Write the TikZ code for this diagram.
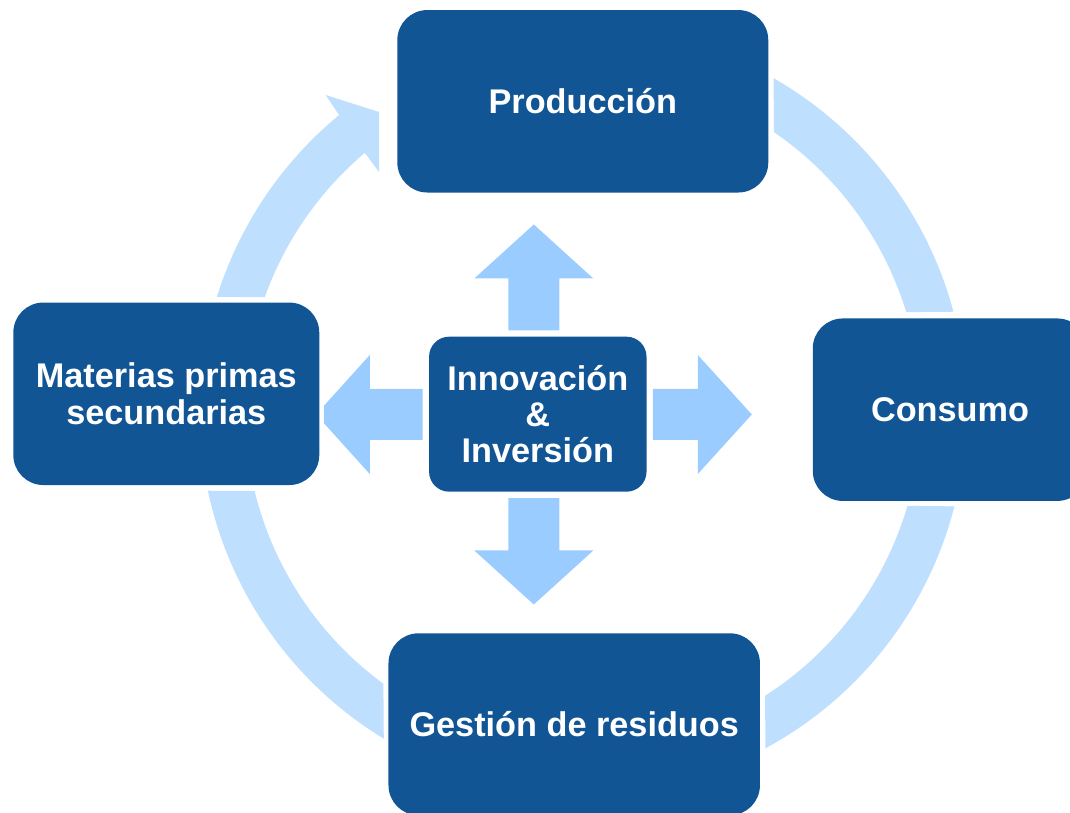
\documentclass[tikz,border=0pt]{standalone}
\usepackage{fontspec}
\setmainfont{Liberation Sans}
\usetikzlibrary{calc}

\definecolor{boxblue}{HTML}{115594}
\definecolor{ringblue}{HTML}{BFDFFF}
\definecolor{arrowblue}{HTML}{9BCCFF}

\tikzset{
  stagebox/.style={fill=boxblue, rounded corners=0.6cm, inner sep=0pt, align=center, text=white,
    font=\bfseries\fontsize{19.5}{20.7}\selectfont},
  ringpart/.style={fill=ringblue},
  hubarrow/.style={fill=arrowblue}
}

\begin{document}
\begin{tikzpicture}[x=0.02cm, y=0.02cm]

\useasboundingbox (0, 0) rectangle (1070, 813);
\clip (0, 0) rectangle (1070, 813);

\node[stagebox, minimum width=7.42cm, minimum height=3.65cm] (prod) at (582.8, 711.7) {Producción};
\node[stagebox, minimum width=5.49cm, minimum height=3.65cm] (cons) at (950, 403.3) {Consumo};
\node[stagebox, minimum width=7.43cm, minimum height=3.64cm] (gest) at (574.2, 88.7) {Gestión de residuos};
\node[stagebox, minimum width=6.12cm, minimum height=3.65cm] (mat) at (166.3, 419.2) {Materias primas\\secundarias};
\node[stagebox, minimum width=4.35cm, minimum height=3.1cm, rounded corners=0.4cm] (innov) at (537.8, 398.8) {Innovación\\\&\\Inversión};

\coordinate (ring) at (583, 402);
\coordinate (hub) at (533.8, 398.5);

% ring round the four stages
\fill[ringpart] ($(ring)+(162.7:383.5)$) arc[start angle=162.7, end angle=129.5, radius=383.5]
  -- (325.7, 718) -- (379, 701) -- (379, 641)
  -- ($(ring)+(130.2:338)$) arc[start angle=130.2, end angle=160.3, radius=338] -- cycle;
\fill[ringpart] ($(ring)+(60.2:383.5)$) arc[start angle=60.2, end angle=15, radius=383.5]
  -- ($(ring)+(17:338)$) arc[start angle=17, end angle=55.6, radius=338] -- cycle;
\fill[ringpart] ($(ring)+(-14.4:383.5)$) arc[start angle=-14.4, end angle=-61.6, radius=383.5]
  -- ($(ring)+(-57.4:338)$) arc[start angle=-57.4, end angle=-16.3, radius=338] -- cycle;
\fill[ringpart] ($(ring)+(192:383.5)$) arc[start angle=192, end angle=238.7, radius=383.5]
  -- ($(ring)+(233.8:338)$) arc[start angle=233.8, end angle=193.7, radius=338] -- cycle;

\fill[hubarrow] ($(hub |- innov.north)+(-25.5,6)$) -- ($(hub)+(-25.5,136)$) -- ($(hub)+(-59.5,136)$) -- ($(hub)+(0,190)$)
  -- ($(hub)+(59.5,136)$) -- ($(hub)+(25.5,136)$) -- ($(hub |- innov.north)+(25.5,6)$) -- cycle;
\fill[hubarrow] ($(hub |- innov.south)+(-25.5,-6)$) -- ($(hub)+(-25.5,-136)$) -- ($(hub)+(-59.5,-136)$) -- ($(hub)+(0,-190)$)
  -- ($(hub)+(59.5,-136)$) -- ($(hub)+(25.5,-136)$) -- ($(hub |- innov.south)+(25.5,-6)$) -- cycle;
\fill[hubarrow] ($(innov.west |- hub)+(-6,25.5)$) -- ($(hub)+(-164,25.5)$) -- ($(hub)+(-164,59.5)$) -- ($(hub)+(-209.8,8.8)$)
  -- ($(hub)+(-209.8,-8.8)$) -- ($(hub)+(-164,-59.5)$) -- ($(hub)+(-164,-25.5)$) -- ($(innov.west |- hub)+(-6,-25.5)$) -- cycle;
\fill[hubarrow] ($(innov.east |- hub)+(6,25.5)$) -- ($(hub)+(164,25.5)$) -- ($(hub)+(164,59.5)$) -- ($(hub)+(218,0)$)
  -- ($(hub)+(164,-59.5)$) -- ($(hub)+(164,-25.5)$) -- ($(innov.east |- hub)+(6,-25.5)$) -- cycle;

\end{tikzpicture}
\end{document}
